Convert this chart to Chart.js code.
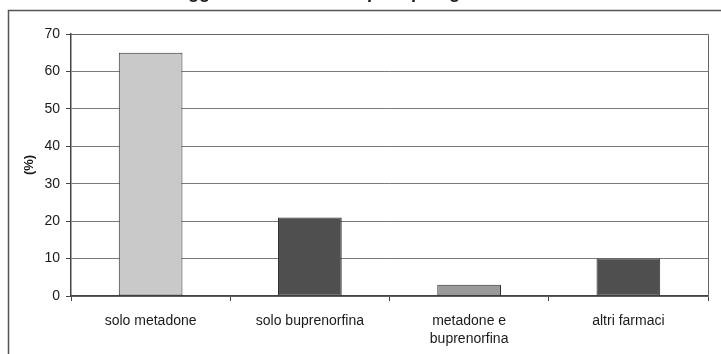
<!DOCTYPE html>
<html>
<head>
<meta charset="utf-8">
<script src="https://cdn.jsdelivr.net/npm/chart.js@4/dist/chart.umd.min.js"></script>
<style>
  html, body { margin: 0; padding: 0; background: #fff; }
  #wrap { width: 721px; height: 354px; position: relative; }
</style>
</head>
<body>
<div id="wrap"><canvas id="c"></canvas></div>
<script>
// Categories and percentages
const categories = ['solo metadone', 'solo buprenorfina', ['metadone e', 'buprenorfina'], 'altri farmaci'];
const percentages = [65, 21, 3, 10];
const barColors = ['#c9c9c9', '#4f4f4f', '#9a9a9a', '#4f4f4f'];
const yTicks = [0, 10, 20, 30, 40, 50, 60, 70];
const chartTitle = 'Soggetti in trattamento per tipologia di farmaco';

const FONT = '"Liberation Sans", Arial, sans-serif';

// Outer frame, plot border and the heading that runs off the top edge
const framePlugin = {
  id: 'frame',
  beforeDraw(chart) {
    const ctx = chart.ctx;
    ctx.save();
    ctx.fillStyle = '#fff';
    ctx.fillRect(0, 0, chart.width, chart.height);
    ctx.strokeStyle = '#555';
    ctx.lineWidth = 1.5;
    ctx.beginPath();
    ctx.moveTo(8.5, chart.height);
    ctx.lineTo(8.5, 10.5);
    ctx.lineTo(chart.width, 10.5);
    ctx.stroke();
    ctx.fillStyle = '#1a1a1a';
    ctx.font = 'bold 18px ' + FONT;
    ctx.textAlign = 'center';
    ctx.textBaseline = 'alphabetic';
    ctx.fillText(chartTitle, 368, -2);
    ctx.restore();
  },
  afterDatasetsDraw(chart) {
    const a = chart.chartArea;
    const ctx = chart.ctx;
    ctx.save();
    ctx.strokeStyle = '#666';
    ctx.lineWidth = 1;
    ctx.beginPath();
    ctx.moveTo(a.left, a.top + 0.5);
    ctx.lineTo(a.right + 0.5, a.top + 0.5);
    ctx.lineTo(a.right + 0.5, a.bottom);
    ctx.stroke();
    ctx.restore();
  }
};

new Chart(document.getElementById('c'), {
  type: 'bar',
  data: {
    labels: categories,
    datasets: [{
      data: percentages,
      backgroundColor: barColors,
      borderColor: '#2e2e2e',
      borderWidth: 1,
      borderSkipped: false,
      barPercentage: 0.4,
      categoryPercentage: 1
    }]
  },
  options: {
    responsive: true,
    maintainAspectRatio: false,
    animation: false,
    devicePixelRatio: 1,
    layout: { padding: { top: 34, right: 13, left: 0, bottom: 0 } },
    plugins: {
      legend: { display: false },
      tooltip: { enabled: false },
      title: { display: false }
    },
    scales: {
      x: {
        grid: {
          display: true,
          drawOnChartArea: false,
          drawTicks: true,
          tickLength: 5,
          color: '#444',
          offset: true
        },
        border: { display: true, color: '#444', width: 1.5 },
        ticks: {
          color: '#1a1a1a',
          font: { family: FONT, size: 14, lineHeight: 1.3 },
          padding: 11,
          maxRotation: 0,
          autoSkip: false
        },
        afterFit(scale) { scale.height = 58; }
      },
      y: {
        min: 0,
        max: 70,
        afterBuildTicks(scale) { scale.ticks = yTicks.map(v => ({ value: v })); },
        grid: {
          color: '#7a7a7a',
          lineWidth: 1,
          drawTicks: true,
          tickLength: 5,
          tickColor: '#444'
        },
        border: { display: true, color: '#444', width: 1.5 },
        ticks: {
          color: '#1a1a1a',
          font: { family: FONT, size: 14 },
          padding: 6
        },
        title: {
          display: true,
          text: '(%)',
          color: '#1a1a1a',
          font: { family: FONT, size: 13, weight: 'bold' },
          padding: { top: 22, bottom: 0 }
        },
        afterFit(scale) { scale.width = 71; }
      }
    }
  },
  plugins: [framePlugin]
});
</script>
</body>
</html>
